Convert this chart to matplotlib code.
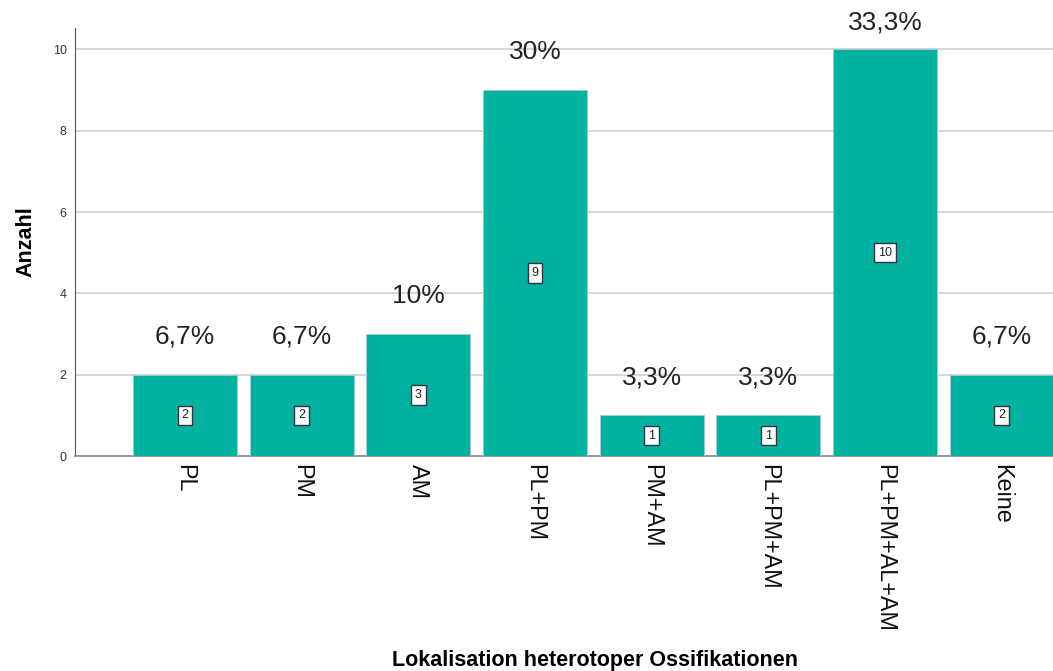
import matplotlib.pyplot as plt

# Anzahl je Lokalisation
kategorien = ['PL', 'PM', 'AM', 'PL+PM', 'PM+AM', 'PL+PM+AM', 'PL+PM+AL+AM', 'Keine']
anzahl = [2, 2, 3, 9, 1, 1, 10, 2]
prozent = ['6,7%', '6,7%', '10%', '30%', '3,3%', '3,3%', '33,3%', '6,7%']

plt.rcParams['font.family'] = ['Liberation Sans', 'DejaVu Sans']

fig = plt.figure(figsize=(10.53, 6.71), dpi=100)
ax = fig.add_axes([0.0712, 0.3204, 0.9288, 0.6376])

x = list(range(len(kategorien)))
bars = ax.bar(x, anzahl, width=0.89, color='#00b2a0', edgecolor='#a8c8e8',
              linewidth=0.6, zorder=3)

for xi, n, p in zip(x, anzahl, prozent):
    # Prozentwert ueber dem Balken, oben am Rand begrenzt
    ypos = min(n + 0.93, 10.66)
    ax.text(xi, ypos, p, ha='center', va='center', fontsize=19,
            color='#222222', clip_on=False)
    ax.text(xi, n / 2, str(n), ha='center', va='center', fontsize=9,
            color='#222222', zorder=4,
            bbox=dict(boxstyle='square,pad=0.3', facecolor='white',
                      edgecolor='#333344', linewidth=1))

ax.set_xlim(-0.943, 7.44)
ax.set_ylim(0, 10.52)
ax.set_yticks([0, 2, 4, 6, 8, 10])
ax.set_xticks(x)
ax.set_xticklabels(kategorien, rotation=270, fontsize=16.8, color='#111111')
ax.tick_params(axis='y', length=0, labelsize=9, pad=6, labelcolor='#333333')
ax.tick_params(axis='x', length=0, pad=6)
ax.yaxis.grid(True, color='#d0d0d0', linewidth=1.2, zorder=0)
ax.set_axisbelow(True)

for s in ['top', 'right']:
    ax.spines[s].set_visible(False)
ax.spines['left'].set_color('#555555')
ax.spines['bottom'].set_color('#888888')
ax.spines['bottom'].set_linewidth(1.2)

ax.set_ylabel('Anzahl', fontsize=15.5, fontweight='bold', labelpad=12)
fig.text(0.565, 0.016, 'Lokalisation heterotoper Ossifikationen', ha='center',
         va='center', fontsize=15.5, fontweight='bold')

fig.savefig('out.png', dpi=100)
